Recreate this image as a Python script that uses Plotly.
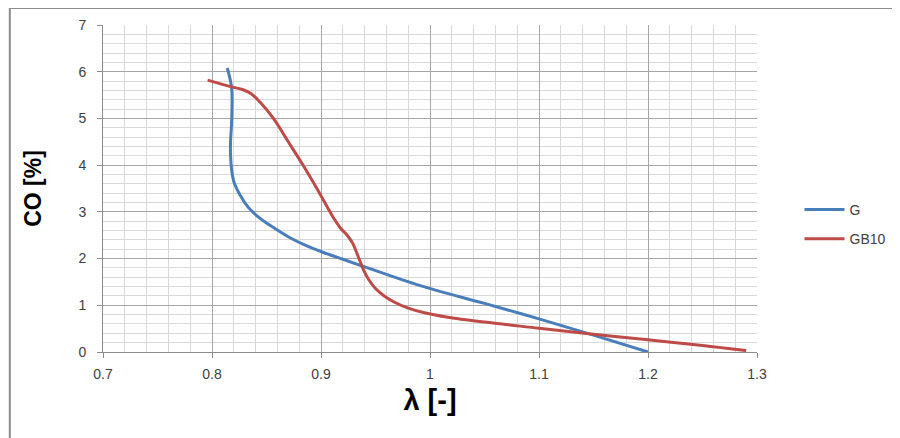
import plotly.graph_objects as go

# G series (lambda, CO %)
g_lambda = [0.814, 0.818, 0.818, 0.817, 0.817, 0.818, 0.820, 0.823, 0.826, 0.830, 0.836,
            0.843, 0.850, 0.858, 0.872, 0.887, 0.901, 0.917, 0.938, 0.991, 1.050,
            1.100, 1.150, 1.200]
g_co = [6.08, 5.65, 4.93, 4.50, 4.22, 3.90, 3.65, 3.48, 3.35, 3.20, 3.03,
        2.88, 2.76, 2.64, 2.44, 2.27, 2.14, 2.01, 1.84, 1.42, 1.04,
        0.71, 0.36, 0.00]

# GB10 series
gb10_lambda = [0.796, 0.819, 0.828, 0.836, 0.844, 0.856, 0.870, 0.884, 0.897, 0.911,
               0.918, 0.924, 0.929, 0.934, 0.939, 0.944, 0.950, 0.958, 0.968, 0.980,
               0.995, 1.015, 1.050, 1.100, 1.150, 1.200, 1.250, 1.290]
gb10_co = [5.82, 5.67, 5.62, 5.53, 5.35, 5.01, 4.50, 3.98, 3.47, 2.89,
           2.65, 2.50, 2.33, 2.05, 1.76, 1.54, 1.36, 1.20, 1.06, 0.94,
           0.84, 0.75, 0.64, 0.51, 0.38, 0.26, 0.14, 0.03]

x_ticks = [0.7, 0.8, 0.9, 1.0, 1.1, 1.2, 1.3]
x_labels = ["0.7", "0.8", "0.9", "1", "1.1", "1.2", "1.3"]
y_ticks = [0, 1, 2, 3, 4, 5, 6, 7]

fig = go.Figure()
fig.add_trace(go.Scatter(x=g_lambda, y=g_co, name="G", mode="lines", legendgroup="g",
                         line=dict(color="#4A7EBB", width=3, shape="spline", smoothing=1.0)))
fig.add_trace(go.Scatter(x=gb10_lambda, y=gb10_co, name="GB10", mode="lines", legendgroup="gb",
                         line=dict(color="#BE4B48", width=3, shape="spline", smoothing=1.0)))

# chart frame (top and left edges visible)
fig.add_shape(type="line", xref="paper", yref="paper", x0=-0.1425, x1=1.3, y0=1.052, y1=1.052,
              line=dict(color="#8c8c8c", width=2))
fig.add_shape(type="line", xref="paper", yref="paper", x0=-0.1425, x1=-0.1425, y0=1.052, y1=-0.3,
              line=dict(color="#8c8c8c", width=2))

# page body has an 8px margin, so margins are shifted by that much
fig.update_layout(
    width=900, height=438,
    margin=dict(l=95, r=151, t=17, b=94),
    plot_bgcolor="white", paper_bgcolor="white",
    font=dict(family="Liberation Sans", size=14, color="#404040"),
    legend=dict(x=1.065, y=0.39, xanchor="left", yanchor="middle",
                font=dict(size=14, color="#404040"), tracegroupgap=8, itemwidth=40),
    xaxis=dict(range=[0.7, 1.3], tickvals=x_ticks, ticktext=x_labels, automargin=False,
               showgrid=True, gridcolor="#a6a6a6", gridwidth=1,
               minor=dict(dtick=0.02, showgrid=True, gridcolor="#d9d9d9", gridwidth=1),
               showline=True, linecolor="#8c8c8c", ticks="outside", ticklen=5, tickcolor="#8c8c8c",
               ticklabelstandoff=4, zeroline=False,
               title=dict(text="<b>λ [-]</b>", font=dict(size=29, color="#000000"), standoff=8)),
    yaxis=dict(range=[0, 7], tickvals=y_ticks, automargin=False,
               showgrid=True, gridcolor="#a6a6a6", gridwidth=1,
               minor=dict(dtick=0.2, showgrid=True, gridcolor="#d9d9d9", gridwidth=1),
               showline=True, linecolor="#8c8c8c", ticks="outside", ticklen=5, tickcolor="#8c8c8c",
               ticklabelstandoff=8, zeroline=False,
               title=dict(text="<b>CO [%]</b>", font=dict(size=23, color="#000000"), standoff=30)),
)

fig.write_html("out.html")
